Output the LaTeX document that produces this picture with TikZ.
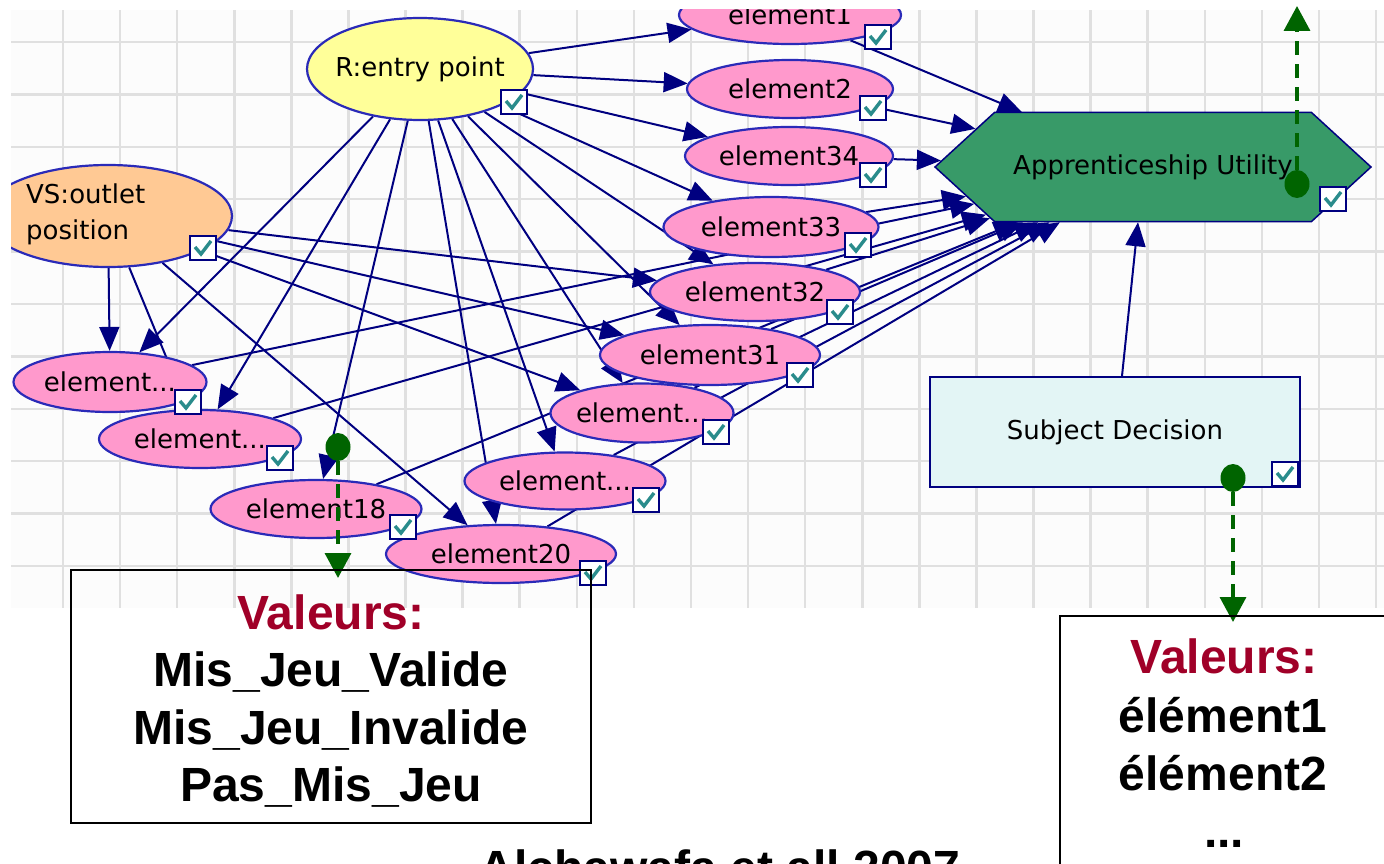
\documentclass[tikz,border=0pt]{standalone}
\usepackage{fontspec}
\setmainfont{DejaVu Sans}
\newfontfamily\bigfont{Liberation Sans}
\usetikzlibrary{arrows.meta,shapes.geometric,shapes.symbols,calc}
\definecolor{navy}{HTML}{000080}
\definecolor{nodeborder}{HTML}{2A2AB8}
\definecolor{pinkfill}{HTML}{FF99CC}
\definecolor{yellowfill}{HTML}{FFFF99}
\definecolor{orangefill}{HTML}{FFC994}
\definecolor{hexfill}{HTML}{389A68}
\definecolor{sdfill}{HTML}{E3F5F5}
\definecolor{gridline}{HTML}{E0E0E0}
\definecolor{gridbg}{HTML}{FCFCFC}
\definecolor{valred}{HTML}{A00028}
\definecolor{checkteal}{HTML}{2A8C8C}
\definecolor{dgreen}{HTML}{006400}
\pgfdeclarelayer{bg}
\pgfdeclarelayer{edges}
\pgfsetlayers{bg,edges,main}
\newcommand\zw[1]{\makebox[0pt]{#1}}
\begin{document}
\begin{tikzpicture}[x=1pt,y=-1pt,
  nodefont/.style={font=\fontsize{26}{30}\selectfont},
  elem/.style={ellipse,draw=nodeborder,line width=2.2pt,fill=pinkfill,inner sep=0pt,nodefont},
  link/.style={draw=navy,line width=2pt,-{Triangle[length=24pt,width=20pt]}},
  gdot/.style={ellipse,fill=dgreen,inner sep=0pt,minimum width=25pt,minimum height=28pt},
  garrow/.style={draw=dgreen,line width=3.5pt,dash pattern=on 14pt off 9pt,-{Triangle[length=25pt,width=26pt]}},
  bigtext/.style={font=\bigfont\bfseries\fontsize{48}{58}\selectfont,inner sep=0pt},
  chk/.pic={\draw[draw=navy,fill=white,line width=1.8pt] (-13,-12) rectangle (13,12);
            \draw[checkteal,line width=3.4pt] (-8,-1) -- (-2,6) -- (8,-7);}
]
\useasboundingbox (0,0) rectangle (1384,864);
\clip (0,0) rectangle (1384,864);

% grid
\begin{pgfonlayer}{bg}
\fill[gridbg] (11,10) rectangle (1384,608);
\foreach \i in {0,...,23} {\draw[gridline,line width=2.5pt] ({63+57.09*\i},10) -- ({63+57.09*\i},608);}
\foreach \j in {0,...,10} {\draw[gridline,line width=2.5pt] (11,{42+52.4*\j}) -- (1384,{42+52.4*\j});}
\end{pgfonlayer}

% nodes
\begin{scope}
\clip (11,10) rectangle (1384,608);
\node[ellipse,draw=nodeborder,line width=2.2pt,fill=yellowfill,inner sep=0pt,minimum width=226pt,minimum height=102pt,nodefont] (R) at (420,69) {\zw{R:entry point}};
\node[ellipse,draw=nodeborder,line width=2.2pt,fill=orangefill,inner sep=0pt,minimum width=248pt,minimum height=102pt] (VS) at (108,216) {};
\node[font=\fontsize{26}{36}\selectfont,align=left,anchor=west,inner sep=0pt] (VStext) at (26,214) {VS:outlet\\position};
\node[elem,minimum width=222pt,minimum height=58pt] (e1) at (790,15) {\zw{element1}};
\node[elem,minimum width=206pt,minimum height=58pt] (e2) at (790,89) {\zw{element2}};
\node[elem,minimum width=208pt,minimum height=58pt] (e34) at (789,156) {\zw{element34}};
\node[elem,minimum width=215pt,minimum height=60pt] (e33) at (771,227) {\zw{element33}};
\node[elem,minimum width=210pt,minimum height=58pt] (e32) at (755,292) {\zw{element32}};
\node[elem,minimum width=220pt,minimum height=60pt] (e31) at (710,355) {\zw{element31}};
\node[elem,minimum width=183pt,minimum height=59pt] (eD) at (642,413) {\zw{element...}};
\node[elem,minimum width=201pt,minimum height=57pt] (eC) at (565,481) {\zw{element...}};
\node[elem,minimum width=230pt,minimum height=58pt] (e20) at (501,554) {\zw{element20}};
\node[elem,minimum width=211pt,minimum height=58pt] (e18) at (316,509) {\zw{element18}};
\node[elem,minimum width=202pt,minimum height=58pt] (eB) at (200,439) {\zw{element...}};
\node[elem,minimum width=193pt,minimum height=60pt] (eA) at (110,382) {\zw{element...}};
\node[signal,signal to=east and west,signal pointer angle=85,draw=navy,line width=1.5pt,fill=hexfill,inner sep=0pt,minimum width=436pt,minimum height=109pt,nodefont] (U) at (1153,167) {\zw{Apprenticeship Utility}};
\node[rectangle,draw=navy,line width=2pt,fill=sdfill,minimum width=370pt,minimum height=110pt,nodefont] (SD) at (1115,432) {Subject Decision};
\foreach \p in {(514,102),(203,248),(878,37),(873,108),(873,175),(858,245),(840,312),(800,375),(716,432),(646,500),(593,573),(403,527),(280,458),(188,402),(1333,199),(1285,474)}
  {\pic at \p {chk};}
\end{scope}

% connectors
\begin{pgfonlayer}{edges}
\begin{scope}
\clip (11,10) rectangle (1384,608);
\foreach \t in {e1,e2,e34,e33,e32,e31,eD,eC,e20,e18,eB,eA} {\draw[link] (R) -- (\t);}
\foreach \t in {eA,eB,e20,e32,e31,eD} {\draw[link] (VS) -- (\t);}
\foreach \s in {e1,e2,e34,e33,e32,e31,eD,eC,e20,e18,eB,eA} {\draw[link] (\s) -- (U);}
\draw[link] ([xshift=7pt]SD.north) -- ([xshift=-15pt]U.south);
\end{scope}
\end{pgfonlayer}

% overlay annotations
\node[gdot] (g1) at (338,447) {};
\coordinate (g1end) at (338,578);
\draw[garrow] (g1) -- (g1end);
\node[gdot] (g2) at (1297,184) {};
\coordinate (g2end) at (1297,6);
\draw[garrow] (g2) -- (g2end);
\node[gdot] (g3) at (1233,478) {};
\coordinate (g3end) at (1233,622);
\draw[garrow] (g3) -- (g3end);

\node[draw=black,line width=2pt,minimum width=520pt,minimum height=253pt,inner sep=0pt] (vals1) at (331,696.5) {};
\node[draw=black,line width=2pt,minimum width=360pt,minimum height=270pt,inner sep=0pt] (vals2) at (1240,751) {};

\node[bigtext,text=valred,anchor=base] (v1h) at (331,629) {Valeurs:};
\node[bigtext,anchor=base] (v1a) at (331,686.5) {Mis\_Jeu\_Valide};
\node[bigtext,anchor=base] (v1b) at (331,744) {Mis\_Jeu\_Invalide};
\node[bigtext,anchor=base] (v1c) at (331,801.5) {Pas\_Mis\_Jeu};

\node[bigtext,text=valred,anchor=base] (v2h) at (1224,673) {Valeurs:};
\node[bigtext,anchor=base] (v2a) at (1223,732) {élément1};
\node[bigtext,anchor=base] (v2b) at (1223,790) {élément2};
\node[bigtext,anchor=base] (v2c) at (1224,847) {...};

\node[bigtext,anchor=base] (cite) at (720,884) {Alchawafa et all 2007};
\end{tikzpicture}
\end{document}
